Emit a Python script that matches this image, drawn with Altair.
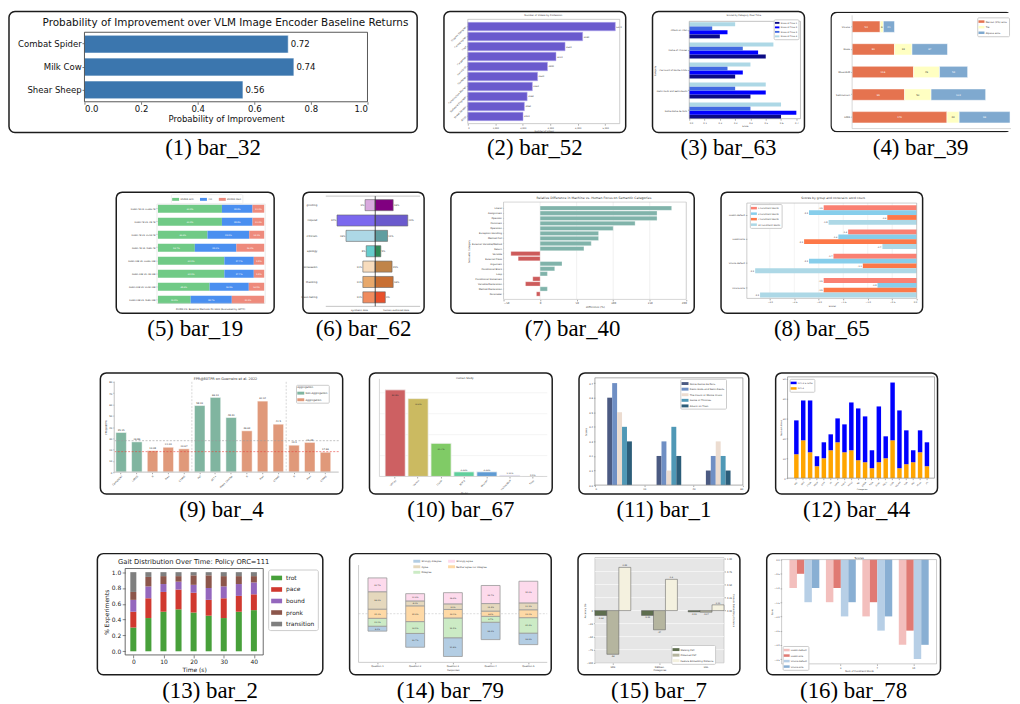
import altair as alt
import pandas as pd

FONT = "DejaVu Sans"
CAPF = "Liberation Serif"
RECT = "M-1,-0.42L1,-0.42L1,0.42L-1,0.42Z"
TXT = "#333333"

# ======================= data =======================
# (1) bar_32
p1_tasks = ["Combat Spider", "Milk Cow", "Shear Sheep"]
p1_prob = [0.72, 0.74, 0.56]
# (2) bar_52
p2_prof = ["Graphic Designer", "Cartographer", "Chef", "Carpenter", "Hairstylist",
           "Gardener", "Construction Worker", "Software Engineer", "Street Vendor", "Artist"]
p2_videos = [5370, 4180, 3540, 3210, 2900, 2540, 2350, 2160, 2060, 2010]
# (3) bar_63
p3_titles = ["Attack on Titan", "Game of Thrones", "The Count of Monte Cristo",
             "Demi-Gods and Semi-Devils", "Notre-Dame de Paris"]
p3_series = ["Score at Time 1", "Score at Time 2", "Score at Time 3", "Score at Time 4"]
p3_t1 = [0.20, 0.50, 0.30, 0.40, 0.60]
p3_t2 = [0.25, 0.45, 0.35, 0.50, 0.70]
p3_t3 = [0.15, 0.35, 0.25, 0.30, 0.40]
p3_t4 = [0.30, 0.55, 0.40, 0.50, 0.60]
p3_colors = ["#0b0b85", "#0000ff", "#4169e1", "#add8e6"]
# (4) bar_39
p4_models = ["Vicuna", "Koala", "WizardLM", "Selfinstruct", "LIMA"]
p4_keys = ["Recost (1%) wins", "Tie", "Alpaca wins"]
p4_win = [53, 80, 116, 99, 179]
p4_tie = [6, 33, 49, 50, 23]
p4_lose = [21, 67, 53, 103, 96]
p4_colors = ["#e5734f", "#ffffc2", "#7fa9cf"]
# (5) bar_19
p5_pairs = ["DUMA-7B VS. LLaMa-7B", "DUMA-7B VS. CB-7B", "DUMA-7B VS. VLAM-7B", "DUMA-7B VS. RLED-7B",
            "DUMA-13B VS. LLaMa-13B", "DUMA-13B VS. CB-13B", "DUMA-13B VS. VLAM-13B", "DUMA-13B VS. RLED-13B"]
p5_keys = ["DUMA win", "Tie", "DUMA lose"]
p5_win = [60.2, 60.2, 46.6, 34.7, 62.5, 62.5, 48.6, 30.8]
p5_tie = [28.8, 28.8, 39.3, 39.1, 27.7, 27.7, 36.9, 38.7]
p5_lose = [11.0, 11.0, 14.1, 26.2, 9.8, 9.8, 14.5, 30.5]
p5_colors = ["#70ca86", "#4a8ff0", "#ee8a7c"]
# (6) bar_62
p6_acts = ["greeting", "request", "criticism", "apology", "persuasion", "thanking", "leave-taking"]
p6_syn = [9, 34, 26, 8, 11, 11, 11]
p6_hum = [16, 29, 11, 5, 15, 16, 9]
p6_syn_col = ["#d9a9de", "#7b68ee", "#add8e6", "#66cdcd", "#f8dcbd", "#e8a86b", "#f08b5e"]
p6_hum_col = ["#800080", "#6a5acd", "#5f9ea0", "#2e8b57", "#c08449", "#c86f33", "#e8502b"]
# (7) bar_40
p7_cats = ["Literal", "Assignment", "Operator", "Comment", "Operation", "Exception Handling",
           "Method Call", "External Variable/Method", "Return", "Variable", "External Class",
           "Argument", "Conditional Block", "Loop", "Conditional Statement",
           "Variable Declaration", "Method Declaration", "Parameter"]
p7_diff = [180, 160, 160, 130, 100, 80, 80, 70, 60, -40, -30, 30, 20, 10, -10, -20, 10, -5]
# (8) bar_65
p8_groups = ["LLaMA-Default", "LLaMA-HAS", "Vicuna-Default", "Vicuna-HAS"]
p8_series = ["1 Constraint Words", "3 Constraint Words", "7 Constraint Words", "10 Constraint Words"]
p8_c1 = [-1.9, -1.4, -1.7, -1.9]
p8_c3 = [-2.2, -1.6, -2.2, -0.8]
p8_c7 = [-0.6, -2.3, -1.1, -1.9]
p8_c10 = [-1.8, -0.7, -3.3, -3.2]
p8_colors = ["#fa8072", "#87ceeb", "#fd7848", "#add8e6"]
# (9) bar_4
p9_labels = ["CometKiwi", "LaBSE", "R", "Max", "STARE", "Pol", "ACT+", "Wass. Combo",
             "R", "Max", "STARE", "R", "Max", "STARE"]
p9_fpr = [35.15, 26.86, 19.08, 22.09, 20.67, 58.99, 66.19, 48.39, 36.63, 62.94, 42.5, 23.9, 26.38, 17.66]
p9_type = ["Non-Aggregation"] * 2 + ["Aggregation"] * 3 + ["Non-Aggregation"] * 3 + ["Aggregation"] * 6
p9_refs = [27.9, 18.2]
p9_splits = [5, 11]
# (10) bar_67
p10_models = ["GPT-4V", "Gemini", "LLaVA", "BLIP-2", "MiniGPT", "InstructBLIP", "Fuyu"]
p10_pct = [82.8, 74.4, 31.7, 4.44, 4.44, 1.11, 0.0]
p10_lab = ["82.8%", "74.4%", "31.7%", "4.44%", "4.44%", "1.11%", "0.0%"]
p10_colors = ["#cd6062", "#cbba61", "#80cb66", "#60cf9c", "#5f9bd3", "#b4a6e6", "#e9a6da"]
# (11) bar_1
p11_series = ["Notre-Dame de Paris", "Demi-Gods and Semi-Devils", "The Count of Monte Cristo",
              "Game of Thrones", "Attack on Titan"]
p11_groups = [10, 30, 50]
p11_offsets = [-4, -2, 0, 2, 4]
p11_vals = [[0.6, 0.2, 0.1], [0.7, 0.3, 0.2], [0.5, 0.1, 0.3], [0.4, 0.4, 0.2], [0.3, 0.2, 0.1]]
p11_colors = ["#4b5a82", "#6f8fc4", "#ecdcd0", "#4f98b6", "#2c5d79"]
# (12) bar_44
p12_cats = ["ARC", "BBH", "CSQA", "DROP", "GSM", "HS", "LAMA", "MATH", "MMLU", "NQ",
            "OBQA", "PIQA", "QuAC", "RACE", "SIQA", "SQuAD", "TQA", "WG", "XSum", "ZS"]
p12_gpt4 = [12, 19, 13, 6, 10, 14, 18, 13, 14, 9, 8, 5, 8, 10, 19, 5, 7, 8, 13, 6]
p12_gpt35 = [17, 20, 26, 5, 8, 8, 12, 14, 24, 26, 23, 9, 28, 11, 29, 29, 17, 6, 11, 12]
# (13) bar_2
p13_time = [0, 5, 10, 15, 20, 25, 30, 35, 40]
p13_gaits = ["trot", "pace", "bound", "pronk", "transition"]
p13_trot = [0.30, 0.42, 0.50, 0.53, 0.49, 0.45, 0.42, 0.50, 0.52]
p13_pace = [0.20, 0.25, 0.25, 0.25, 0.25, 0.20, 0.25, 0.20, 0.20]
p13_bound = [0.15, 0.15, 0.10, 0.10, 0.10, 0.15, 0.15, 0.15, 0.15]
p13_pronk = [0.10, 0.12, 0.10, 0.07, 0.12, 0.16, 0.13, 0.10, 0.08]
p13_trans = [0.25, 0.06, 0.05, 0.05, 0.04, 0.04, 0.05, 0.05, 0.05]
p13_colors = ["#47a03a", "#d0392f", "#9467bd", "#8c564b", "#7f7f7f"]
# (14) bar_79
p14_q = ["Question 1", "Question 2", "Question 3", "Question 4", "Question 5"]
p14_levels = ["Strongly disagree", "Disagree", "Neither agree nor disagree", "Agree", "Strongly agree"]
p14_sd = [8.1, 22.7, 30.8, 28.6, 18.9]
p14_d = [13.0, 19.5, 32.5, 9.7, 25.4]
p14_n = [15.1, 25.9, 14.0, 8.6, 13.0]
p14_a = [28.6, 8.1, 9.2, 12.4, 11.3]
p14_sa = [22.7, 11.9, 18.4, 29.7, 35.6]
p14_colors = ["#b3cde3", "#ccebc5", "#fed9a6", "#e5d8bd", "#fddaec"]
# (15) bar_7
p15_groups = ["SDS", "NERLen", "HSL"]
p15_series = ["Walking FSC", "Observed FSP", "Feature Embedding Distance"]
p15_walk = [-9.44, -9.33, -2.51]
p15_obs = [-84.0, -37.0, -3.07]
p15_fed = [0.83, 0.6, 0.11]
p15_colors = ["#5e6e4e", "#b5b59f", "#f4f1df"]
# (16) bar_78
p16_groups = ["1", "3", "7", "10"]
p16_series = ["LLaMA-Default", "LLaMA-HAS", "Vicuna-Default", "Vicuna-HAS"]
p16_vals = [[-1.0, -1.5, -2.0, -3.0], [-0.5, -1.0, -1.5, -2.5],
            [-1.5, -2.0, -2.5, -3.5], [-1.0, -1.5, -2.0, -3.0]]
p16_colors = ["#f3bfbd", "#e07a73", "#b7cfe6", "#89afd3"]


# ======================= helpers =======================
def one():
    return pd.DataFrame({"k": [0]})


def note(text, x, y, size, align="center", angle=0, color=TXT, baseline="middle"):
    kw = dict(text=text, align=align, baseline=baseline, fontSize=size, font=FONT, color=color)
    if angle:
        kw["angle"] = angle
    return alt.Chart(one()).mark_text(**kw).encode(x=alt.value(x), y=alt.value(y))


def box(L, T, R, B, color="#555555", sw=0.8, fill=None):
    kw = dict(stroke=color, strokeWidth=sw)
    if fill:
        kw["fill"] = fill
        kw["fillOpacity"] = 1
    else:
        kw["fillOpacity"] = 0
    return alt.Chart(one()).mark_rect(**kw).encode(
        x=alt.value(L), x2=alt.value(R), y=alt.value(T), y2=alt.value(B))


def seg(x1, y1, x2, y2, color="#555555", sw=0.8, dash=None):
    kw = dict(color=color, strokeWidth=sw)
    if dash:
        kw["strokeDash"] = dash
    return alt.Chart(one()).mark_rule(**kw).encode(
        x=alt.value(x1), y=alt.value(y1), x2=alt.value(x2), y2=alt.value(y2))


def axis_kw(size, extra):
    d = dict(grid=False, domain=False, labelFontSize=size, titleFontSize=size,
             labelFont=FONT, titleFont=FONT, labelColor=TXT, titleColor=TXT,
             titleFontWeight="normal", tickSize=1.5, tickWidth=0.5, tickColor="#555555",
             labelPadding=1, titlePadding=1)
    d.update(extra)
    return d


def xax(H, B, size, **kw):
    return alt.Axis(offset=-(H - B), **axis_kw(size, kw))


def yax(L, size, **kw):
    return alt.Axis(offset=-L, **axis_kw(size, kw))


def leg(x, y, size, symw, **kw):
    d = dict(orient="none", legendX=x, legendY=y, title=None, labelFontSize=size,
             labelFont=FONT, labelColor=TXT, symbolType=RECT, symbolSize=symw * symw,
             symbolStrokeWidth=0, rowPadding=size * 0.25, padding=size * 0.5,
             strokeColor="#cccccc", fillColor="white", cornerRadius=1,
             labelOffset=size * 0.5)
    d.update(kw)
    return alt.Legend(**d)


def finish(layers, W, H, caption, ydep=False, view=None):
    ch = alt.layer(*layers)
    if ydep:
        ch = ch.resolve_scale(y="independent")
    props = dict(width=W, height=H, title=alt.Title(
        caption, orient="bottom", anchor="middle", font=CAPF, fontSize=23,
        fontWeight="normal", color="#000000", offset=5))
    if view is not None:
        props["view"] = view
    return ch.properties(**props)


def stack_rows(cats, keys, series):
    rows = []
    for i, c in enumerate(cats):
        acc = 0.0
        for k, vals in zip(keys, series):
            v = vals[i]
            rows.append({"cat": c, "key": k, "v": v, "x0": acc, "x1": acc + v, "xm": acc + v / 2})
            acc += v
    return pd.DataFrame(rows)


# ======================= panels =======================
def panel1():
    W, H = 411, 122
    L, T, R, B = 76, 21, 361, 91
    df = pd.DataFrame({"task": p1_tasks, "p": p1_prob, "lab": [f"{v:.2f}" for v in p1_prob]})
    x = alt.X("p:Q", scale=alt.Scale(domain=[0, 1], range=[L, R], nice=False),
              axis=xax(H, B, 8.6, values=[0, 0.2, 0.4, 0.6, 0.8, 1.0], format=".1f",
                       title="Probability of Improvement", tickSize=2.5, tickWidth=0.8,
                       labelPadding=0.5, titlePadding=1, labelColor="#111111", titleColor="#111111"))
    y = alt.Y("task:N", sort=p1_tasks, scale=alt.Scale(range=[T, B], paddingInner=0.22, paddingOuter=0.13),
              axis=yax(L, 8.6, title=None, tickSize=2.5, tickWidth=0.8, labelPadding=0.8, labelColor="#111111"))
    base = alt.Chart(df)
    bars = base.mark_bar(color="#3b76ae", stroke="white", strokeWidth=0.6).encode(x=x, y=y)
    txt = base.mark_text(align="left", baseline="middle", dx=2.5, fontSize=8.6, font=FONT,
                         color="#111111").encode(x=x, y=y, text="lab:N")
    return finish([bars, txt, box(L, T, R, B, "#444444", 0.9),
                   note("Probability of Improvement over VLM Image Encoder Baseline Returns", 218, 11.5, 10.5, color="#111111")],
                  W, H, "(1) bar_32")


def panel2():
    W, H = 183, 122
    L, T, R, B = 24, 8, 177, 113
    df = pd.DataFrame({"prof": p2_prof, "n": p2_videos, "lab": [str(v) for v in p2_videos]})
    x = alt.X("n:Q", scale=alt.Scale(domain=[0, 5530], range=[L, R], nice=False),
              axis=xax(H, B, 2.2, values=[0, 1000, 2000, 3000, 4000, 5000], title="Number of Videos", labelAngle=0))
    y = alt.Y("prof:N", sort=p2_prof, scale=alt.Scale(range=[T, B], paddingInner=0.15, paddingOuter=0.3),
              axis=yax(L, 2.4, title=None, labelAngle=315))
    base = alt.Chart(df)
    bars = base.mark_bar(color="#6a5acd", stroke="#b3a9ee", strokeWidth=0.5).encode(x=x, y=y)
    txt = base.mark_text(align="left", dx=1, fontSize=2.2, font=FONT, color=TXT).encode(x=x, y=y, text="lab:N")
    return finish([bars, txt, box(L, T, R, B, "#aaaaaa", 0.6),
                   note("Number of Videos by Profession", 100, 4, 2.4)], W, H, "(2) bar_52")


def panel3():
    W, H = 153, 122
    L, T, R, B = 37, 10, 149, 108
    rows = []
    for s, vals in zip(p3_series, [p3_t1, p3_t2, p3_t3, p3_t4]):
        for c, v in zip(p3_titles, vals):
            rows.append({"cat": c, "s": s, "v": v})
    df = pd.DataFrame(rows)
    x = alt.X("v:Q", scale=alt.Scale(domain=[0, 0.727], range=[L, R], nice=False),
              axis=xax(H, B, 2.2, values=[0, 0.1, 0.2, 0.3, 0.4, 0.5, 0.6, 0.7], format=".1f", title="Score"))
    y = alt.Y("cat:N", sort=p3_titles, scale=alt.Scale(range=[11, 108], paddingInner=0.2, paddingOuter=0),
              axis=yax(L, 2.2, title="Category"))
    yo = alt.YOffset("s:N", sort=p3_series[::-1], scale=alt.Scale(paddingInner=0))
    col = alt.Color("s:N", scale=alt.Scale(domain=p3_series, range=p3_colors),
                    legend=leg(122, 8, 2.1, 4.5))
    bars = alt.Chart(df).mark_bar().encode(x=x, y=y, yOffset=yo, color=col)
    return finish([bars, box(L, T, R, B, "#999999", 0.6),
                   note("Scores by Category Over Time", 92, 3.5, 2.3)], W, H, "(3) bar_63")


def panel4():
    W, H = 182, 122
    L, T, R, B = 22, 4, 181, 118
    df = stack_rows(p4_models, p4_keys, [p4_win, p4_tie, p4_lose])
    df["lab"] = [str(int(v)) for v in df["v"]]
    df["tc"] = ["#333333" if k == "Tie" else "white" for k in df["key"]]
    xs = alt.Scale(domain=[0, 298], range=[L, R], nice=False)
    y = alt.Y("cat:N", sort=p4_models, scale=alt.Scale(range=[T, B], paddingInner=0.5, paddingOuter=0.25),
              axis=yax(L, 2.5, title=None))
    col = alt.Color("key:N", scale=alt.Scale(domain=p4_keys, range=p4_colors), legend=leg(148, 6, 2.5, 6))
    bars = alt.Chart(df).mark_bar(stroke="white", strokeWidth=0.5).encode(
        x=alt.X("x0:Q", scale=xs, axis=None), x2="x1:Q", y=y, color=col)
    txt = alt.Chart(df).mark_text(fontSize=2.5, font=FONT).encode(
        x=alt.X("xm:Q", scale=xs, axis=None), y=y, text="lab:N", color=alt.Color("tc:N", scale=None))
    # the reference crops this panel at the page edge: frame drawn open on the right
    frame = alt.Chart(one()).mark_rect(clip=True, cornerRadius=6, stroke="#1c1c1c", strokeWidth=1.5,
                                       fillOpacity=0).encode(
        x=alt.value(0.75), x2=alt.value(W + 12), y=alt.value(0.75), y2=alt.value(H - 0.75))
    return finish([bars, txt, seg(L, T, L, B, "#bbbbbb", 0.6), seg(L, B, W, B, "#bbbbbb", 0.6), frame],
                  W, H, "(4) bar_39", view=alt.ViewBackground(strokeOpacity=0))


def panel5():
    W, H = 159, 122
    L, T, R, B = 41, 12, 150, 112
    df = stack_rows(p5_pairs, p5_keys, [p5_win, p5_tie, p5_lose])
    df["lab"] = [f"{v:.1f}%" for v in df["v"]]
    xs = alt.Scale(domain=[0, 100], range=[42, 149], nice=False)
    y = alt.Y("cat:N", sort=p5_pairs, scale=alt.Scale(range=[12.7, 112.3], paddingInner=0.39, paddingOuter=0),
              axis=yax(L, 2.1, title=None, tickSize=1))
    col = alt.Color("key:N", scale=alt.Scale(domain=p5_keys, range=p5_colors),
                    legend=leg(55, 2, 2.6, 7, direction="horizontal", columnPadding=6, strokeColor="#eeeeee"))
    bars = alt.Chart(df).mark_bar().encode(x=alt.X("x0:Q", scale=xs, axis=None), x2="x1:Q", y=y, color=col)
    txt = alt.Chart(df).mark_text(fontSize=2.1, font=FONT, color="white").encode(
        x=alt.X("xm:Q", scale=xs, axis=None), y=y, text="lab:N")
    return finish([bars, txt, box(L, T, R, B, "#dddddd", 0.6),
                   note("DUMA VS. Baseline Methods On HHH (Evaluated by GPT4)", 95, 118, 2.4)],
                  W, H, "(5) bar_19")


def panel6():
    W, H = 122, 122
    L, T, R, B = 23, 4, 118, 115
    syn = pd.DataFrame({"act": p6_acts, "v": [-v for v in p6_syn], "c": p6_syn_col,
                        "lab": [f"{v}%" for v in p6_syn]})
    hum = pd.DataFrame({"act": p6_acts, "v": p6_hum, "c": p6_hum_col,
                        "lab": [f"{v}%" for v in p6_hum]})
    xs = alt.Scale(domain=[-44, 40], range=[L, R], nice=False)
    x = alt.X("v:Q", scale=xs, axis=None)
    y = alt.Y("act:N", sort=p6_acts, scale=alt.Scale(range=[7.5, 111.5], paddingInner=0.28, paddingOuter=0),
              axis=yax(L, 2.6, title=None, tickSize=0, labelPadding=9))
    b1 = alt.Chart(syn).mark_bar(stroke="#666666", strokeWidth=0.6).encode(x=x, y=y, color=alt.Color("c:N", scale=None))
    b2 = alt.Chart(hum).mark_bar(stroke="#666666", strokeWidth=0.6).encode(x=x, y=y, color=alt.Color("c:N", scale=None))
    t1 = alt.Chart(syn).mark_text(align="right", dx=-0.8, fontSize=2.4, font=FONT, color=TXT).encode(x=x, y=y, text="lab:N")
    t2 = alt.Chart(hum).mark_text(align="left", dx=0.8, fontSize=2.4, font=FONT, color=TXT).encode(x=x, y=y, text="lab:N")
    return finish([b1, b2, t1, t2,
                   seg(L, T, R, T, "#999999", 0.6), seg(L, B, R, B, "#999999", 0.6),
                   seg(72.8, T, 72.8, B, "#333333", 0.8),
                   note("synthetic data", 57, 119, 2.4), note("human-authored data", 94, 119, 2.4)],
                  W, H, "(6) bar_62")


def panel7():
    W, H = 245, 122
    L, T, R, B = 53, 10, 237, 108
    df = pd.DataFrame({"cat": p7_cats, "d": p7_diff,
                       "c": ["#80b3aa" if v > 0 else "#cd5b5b" for v in p7_diff]})
    ticks = pd.DataFrame({"d": [-50, 0, 50, 100, 150, 200]})
    xs = alt.Scale(domain=[-50, 200], range=[L, R], nice=False)
    x = alt.X("d:Q", scale=xs, axis=xax(H, B, 2.6, values=[-50, 0, 50, 100, 150, 200], title="Difference (%)"))
    y = alt.Y("cat:N", sort=p7_cats, scale=alt.Scale(range=[14, 104.7], paddingInner=0.15, paddingOuter=0),
              axis=yax(L, 2.4, title="Semantic Category", tickSize=1))
    grid = alt.Chart(ticks).mark_rule(color="#e3e3e3", strokeWidth=0.5).encode(x=x, y=alt.value(T), y2=alt.value(B))
    bars = alt.Chart(df).mark_bar(stroke="white", strokeWidth=0.3).encode(x=x, y=y, color=alt.Color("c:N", scale=None))
    return finish([grid, bars, box(L, T, R, B, "#bbbbbb", 0.6),
                   note("Relative Difference in Machine vs. Human Focus on Semantic Categories", 144, 6, 3.2)],
                  W, H, "(7) bar_40")


def panel8():
    W, H = 203, 122
    L, T, R, B = 26, 11, 197, 107
    rows = []
    for s, vals in zip(p8_series, [p8_c1, p8_c3, p8_c7, p8_c10]):
        for g, v in zip(p8_groups, vals):
            rows.append({"g": g, "s": s, "v": v, "lab": f"{v:.1f}"})
    df = pd.DataFrame(rows)
    ticks = pd.DataFrame({"v": [-3.0, -2.5, -2.0, -1.5, -1.0, -0.5, 0.0]})
    xs = alt.Scale(domain=[-3.47, 0], range=[L, R], nice=False)
    x = alt.X("v:Q", scale=xs, axis=xax(H, B, 2.2, values=[-3.0, -2.5, -2.0, -1.5, -1.0, -0.5, 0.0],
                                        format=".1f", title="Scores"))
    y = alt.Y("g:N", sort=p8_groups, scale=alt.Scale(range=[13.3, 106], paddingInner=0.2, paddingOuter=0),
              axis=yax(L, 2.2, title=None))
    yo = alt.YOffset("s:N", sort=p8_series, scale=alt.Scale(paddingInner=0))
    col = alt.Color("s:N", scale=alt.Scale(domain=p8_series, range=p8_colors), legend=leg(29, 12, 2.2, 6))
    grid = alt.Chart(ticks).mark_rule(color="#e6e6e6", strokeWidth=0.5).encode(x=x, y=alt.value(T), y2=alt.value(B))
    bars = alt.Chart(df).mark_bar().encode(x=x, y=y, yOffset=yo, color=col)
    txt = alt.Chart(df).mark_text(align="right", dx=-1, fontSize=2.1, font=FONT, color=TXT).encode(
        x=x, y=y, yOffset=yo, text="lab:N")
    return finish([grid, bars, txt, box(L, T, R, B, "#aaaaaa", 0.6),
                   note("Scores by group and constraint word count", 113, 6, 3.0)], W, H, "(8) bar_65")


def panel9():
    W, H = 244, 122
    L, T, R, B = 14, 9, 240, 100
    df = pd.DataFrame({"i": list(range(len(p9_fpr))), "fpr": p9_fpr, "t": p9_type,
                       "lab": [f"{v:g}" for v in p9_fpr]})
    refs = pd.DataFrame({"fpr": p9_refs, "c": ["#999999", "#e8413a"]})
    splits = pd.DataFrame({"i": p9_splits})
    lab_expr = "[" + ",".join("'" + s + "'" for s in p9_labels) + "][datum.value]"
    xs = alt.Scale(range=[15.6, 232], paddingInner=0.33, paddingOuter=0)
    xaxis = xax(H, B, 2.5, title=None, labelExpr=lab_expr, labelAngle=315)
    x = alt.X("i:O", scale=xs, axis=xaxis)
    ys = alt.Scale(domain=[0, 80], range=[B, T], nice=False)
    y = alt.Y("fpr:Q", scale=ys, axis=yax(L, 2.4, values=[0, 10, 20, 30, 40, 50, 60, 70, 80], title="FPR@80TPR"))
    col = alt.Color("t:N", scale=alt.Scale(domain=["Non-Aggregation", "Aggregation"], range=["#80b5a0", "#e0997a"]),
                    legend=leg(197, 12, 2.6, 7, title="Aggregation", titleFontSize=2.6, titleFont=FONT,
                               titleFontWeight="normal", titleColor=TXT, titlePadding=1))
    bars = alt.Chart(df).mark_bar(stroke="white", strokeWidth=0.5).encode(x=x, y=y, color=col)
    txt = alt.Chart(df).mark_text(baseline="bottom", dy=-0.8, fontSize=2.4, font=FONT, color=TXT).encode(
        x=x, y=y, text="lab:N")
    hl = alt.Chart(refs).mark_rule(strokeDash=[2, 1.5], strokeWidth=0.6).encode(
        y=y, x=alt.value(L), x2=alt.value(R), color=alt.Color("c:N", scale=None))
    vl = alt.Chart(splits).mark_rule(strokeDash=[2, 1.5], strokeWidth=0.6, color="#bbbbbb", xOffset=-2.6).encode(
        x=alt.X("i:O", scale=xs, bandPosition=0, axis=xaxis), y=alt.value(T), y2=alt.value(B))
    return finish([bars, txt, hl, vl, seg(L, T, L, B, "#cccccc", 1.2), seg(L, B, R, B, "#cccccc", 1.2),
                   note("FPR@80TPR on Guerreiro et al. 2022", 126, 6, 3.5)], W, H, "(9) bar_4")


def panel10():
    W, H = 184, 122
    L, T, R, B = 10, 6, 179, 104.3
    df = pd.DataFrame({"m": p10_models, "v": p10_pct, "lab": p10_lab, "c": p10_colors,
                       "ly": [v - 5 if v > 10 else v + 1.8 for v in p10_pct]})
    ticks = pd.DataFrame({"v": [20, 40, 60, 80]})
    x = alt.X("m:N", sort=p10_models, scale=alt.Scale(range=[15.7, 174.6], paddingInner=0.12, paddingOuter=0),
              axis=xax(H, B, 2.3, title="Model", labelAngle=315))
    ys = alt.Scale(domain=[0, 93.3], range=[B, T], nice=False)
    y = alt.Y("v:Q", scale=ys, axis=yax(L, 2.3, values=[0, 20, 40, 60, 80], title="Percentage (%)"))
    grid = alt.Chart(ticks).mark_rule(color="#eeeeee", strokeWidth=0.6).encode(y=y, x=alt.value(L), x2=alt.value(R))
    bars = alt.Chart(df).mark_bar(stroke="#f4f4f4", strokeWidth=0.8).encode(x=x, y=y, color=alt.Color("c:N", scale=None))
    txt = alt.Chart(df).mark_text(fontSize=2.2, font=FONT, color=TXT).encode(
        x=x, y=alt.Y("ly:Q", scale=ys, axis=None), text="lab:N")
    return finish([grid, bars, txt, seg(L, T, L, B, "#cccccc", 0.8), seg(L, B, R, B, "#cccccc", 0.8),
                   note("Human Study", 96, 5, 2.6)], W, H, "(10) bar_67")


def panel11():
    W, H = 171, 122
    L, T, R, B = 16, 5, 165, 113
    rows = []
    for s, off, vals in zip(p11_series, p11_offsets, p11_vals):
        for g, v in zip(p11_groups, vals):
            rows.append({"s": s, "x0": g + off - 1, "x1": g + off + 1, "v": v, "base": 0.0})
    df = pd.DataFrame(rows)
    x = alt.X("x0:Q", scale=alt.Scale(domain=[0, 60], range=[L, R], nice=False),
              axis=xax(H, B, 2.4, values=[0, 20, 40, 60], title=None))
    y = alt.Y("v:Q", scale=alt.Scale(domain=[0, 0.736], range=[B, T], nice=False),
              axis=yax(L, 2.4, values=[0, 0.1, 0.2, 0.3, 0.4, 0.5, 0.6, 0.7], format=".1f", title="Scores"))
    col = alt.Color("s:N", scale=alt.Scale(domain=p11_series, range=p11_colors), legend=leg(102, 6, 2.5, 7))
    bars = alt.Chart(df).mark_bar().encode(x=x, x2="x1:Q", y=y, y2="base:Q", color=col)
    return finish([bars, box(L, T, R, B, "#888888", 0.7)], W, H, "(11) bar_1")


def panel12():
    W, H = 163, 122
    L, T, R, B = 12, 4, 160, 106
    keys = ["GPT-4", "GPT-3.5-Turbo"]
    df = stack_rows(p12_cats, keys, [p12_gpt4, p12_gpt35])
    x = alt.X("cat:N", sort=p12_cats, scale=alt.Scale(range=[18.6, 154.6], paddingInner=0.35, paddingOuter=0),
              axis=xax(H, B, 2.0, title="Categories", labelAngle=315))
    ys = alt.Scale(domain=[0, 50.85], range=[B, T], nice=False)
    y = alt.Y("x0:Q", scale=ys, axis=yax(L, 2.2, values=[0, 10, 20, 30, 40, 50], title="Num solutions"))
    col = alt.Color("key:N", scale=alt.Scale(domain=["GPT-3.5-Turbo", "GPT-4"], range=["#0000ff", "#ffa500"]),
                    legend=leg(14, 6, 2.2, 6))
    bars = alt.Chart(df).mark_bar().encode(x=x, y=y, y2="x1:Q", color=col)
    return finish([bars, box(L, T, R, B, "#888888", 0.7)], W, H, "(12) bar_44")


def panel13():
    W, H = 227, 122
    L, T, R, B = 28, 15, 167, 102
    rows = []
    series = [p13_trot, p13_pace, p13_bound, p13_pronk, p13_trans]
    for i, t in enumerate(p13_time):
        acc = 0.0
        for g, vals in zip(p13_gaits, series):
            rows.append({"g": g, "t0": t - 1, "t1": t + 1, "y0": acc, "y1": acc + vals[i]})
            acc += vals[i]
    df = pd.DataFrame(rows)
    x = alt.X("t0:Q", scale=alt.Scale(domain=[-2.7, 43.1], range=[L, R], nice=False),
              axis=xax(H, B, 6, values=[0, 10, 20, 30, 40], title="Time (s)", tickSize=3, tickWidth=0.7,
                       labelPadding=1, titlePadding=1.5, labelColor="#222222", titleColor="#222222"))
    y = alt.Y("y0:Q", scale=alt.Scale(domain=[-0.046, 1.046], range=[B, T], nice=False),
              axis=yax(L, 6, values=[0, 0.2, 0.4, 0.6, 0.8, 1.0], format=".1f", title="% Experiments",
                       tickSize=3, tickWidth=0.7, labelPadding=1.5, titlePadding=2,
                       labelColor="#222222", titleColor="#222222"))
    col = alt.Color("g:N", scale=alt.Scale(domain=p13_gaits, range=p13_colors),
                    legend=leg(172, 16, 6, 11, rowPadding=2.6, padding=3, cornerRadius=2,
                               labelOffset=4, labelColor="#222222"))
    bars = alt.Chart(df).mark_bar().encode(x=x, x2="t1:Q", y=y, y2="y1:Q", color=col)
    return finish([bars, box(L, T, R, B, "#444444", 0.8),
                   note("Gait Distribution Over Time: Policy ORC=111", 97, 8, 6.8, color="#222222")],
                  W, H, "(13) bar_2")


def panel14():
    W, H = 203, 122
    L, T, R, B = 9, 11.5, 199, 109.5
    rows = []
    for i, q in enumerate(p14_q):
        n0 = -p14_n[i] / 2
        n1 = p14_n[i] / 2
        segs = [("Strongly disagree", n0 - p14_d[i] - p14_sd[i], n0 - p14_d[i], p14_sd[i]),
                ("Disagree", n0 - p14_d[i], n0, p14_d[i]),
                ("Neither agree nor disagree", n0, n1, p14_n[i]),
                ("Agree", n1, n1 + p14_a[i], p14_a[i]),
                ("Strongly agree", n1 + p14_a[i], n1 + p14_a[i] + p14_sa[i], p14_sa[i])]
        for k, a, b, v in segs:
            rows.append({"q": q, "k": k, "y0": a, "y1": b, "ym": (a + b) / 2, "lab": f"{v:.1f}%"})
    df = pd.DataFrame(rows)
    x = alt.X("q:N", sort=p14_q, scale=alt.Scale(range=[L, R], paddingInner=0.5, paddingOuter=0.25),
              axis=xax(H, B, 2.3, title="Responses", labelAngle=0))
    ys = alt.Scale(domain=[-80, 80], range=[B, T], nice=False)
    y = alt.Y("y0:Q", scale=ys, axis=yax(L, 2.3, values=[-80, -60, -40, -20, 0, 20, 40, 60, 80],
                                          labelExpr="format(abs(datum.value), 'd')", title=None))
    order = ["Strongly disagree", "Agree", "Disagree", "Strongly agree", "Neither agree nor disagree"]
    cmap = dict(zip(p14_levels, p14_colors))
    col = alt.Color("k:N", scale=alt.Scale(domain=order, range=[cmap[o] for o in order]),
                    legend=leg(63, 3, 2.3, 7, columns=2, columnPadding=6, strokeColor="white"))
    bars = alt.Chart(df).mark_bar(stroke="#999999", strokeWidth=0.8).encode(x=x, y=y, y2="y1:Q", color=col)
    txt = alt.Chart(df).mark_text(fontSize=2.0, font=FONT, color=TXT).encode(
        x=x, y=alt.Y("ym:Q", scale=ys, axis=None), text="lab:N")
    zero = alt.Chart(pd.DataFrame({"y0": [0]})).mark_rule(color="#bbbbbb", strokeWidth=0.5, strokeDash=[2, 1.5]).encode(
        y=y, x=alt.value(L), x2=alt.value(R))
    return finish([zero, bars, txt, seg(L, T, L, B, "#aaaaaa", 0.6), seg(L, B, R, B, "#aaaaaa", 0.6)],
                  W, H, "(14) bar_79")


def panel15():
    W, H = 163, 122
    L, T, R, B = 17, 4, 147, 110
    dl = []
    for s, vals in zip(p15_series[:2], [p15_walk, p15_obs]):
        for g, v in zip(p15_groups, vals):
            dl.append({"g": g, "s": s, "v": v, "lab": f"{v:g}"})
    dl = pd.DataFrame(dl)
    dr = pd.DataFrame({"g": p15_groups, "s": [p15_series[2]] * 3, "v": p15_fed,
                       "lab": [f"{v:g}" for v in p15_fed]})
    grid = pd.DataFrame({"v": [-75, -50, -25, 0, 25, 50, 75, 100]})
    x = alt.X("g:N", sort=p15_groups, scale=alt.Scale(range=[L, R], paddingInner=0.23, paddingOuter=0),
              axis=xax(H, B, 2.4, title="Categories", labelAngle=0))
    xo = alt.XOffset("s:N", sort=p15_series, scale=alt.Scale(domain=p15_series, paddingInner=0))
    col = alt.Color("s:N", scale=alt.Scale(domain=p15_series, range=p15_colors), legend=leg(94, 92, 2.3, 7))
    yl = alt.Y("v:Q", scale=alt.Scale(domain=[-100.5, 101.8], range=[B, T], nice=False),
               axis=yax(L, 2.3, values=[0, -25, -50, -75, -100], title="Accuracy (%)"))
    yr = alt.Y("v:Q", scale=alt.Scale(domain=[-1.005, 1.018], range=[B, T], nice=False),
               axis=alt.Axis(orient="right", offset=-(W - R),
                             **axis_kw(2.3, dict(values=[0, 0.25, 0.5, 0.75, 1.0], format=".2f",
                                                 title="Feature Embedding Distance"))))
    gl = alt.Chart(grid).mark_rule(color="white", strokeWidth=0.6).encode(y=yl, x=alt.value(L), x2=alt.value(R))
    lb = alt.Chart(dl).mark_bar(stroke="#555555", strokeWidth=0.5).encode(x=x, xOffset=xo, y=yl, color=col)
    lt = alt.Chart(dl).mark_text(baseline="top", dy=1, fontSize=2.1, font=FONT, color=TXT).encode(
        x=x, xOffset=xo, y=yl, text="lab:N")
    rb = alt.Chart(dr).mark_bar(stroke="#555555", strokeWidth=0.5).encode(x=x, xOffset=xo, y=yr, color=col)
    rt = alt.Chart(dr).mark_text(baseline="bottom", dy=-1, fontSize=2.1, font=FONT, color=TXT).encode(
        x=x, xOffset=xo, y=yr, text="lab:N")
    left = alt.layer(gl, lb, lt)
    right = alt.layer(rb, rt)
    return finish([box(L, T, R, B, "#bbbbbb", 0.6, fill="#e6e6e6"), left, right], W, H, "(15) bar_7", ydep=True)


def panel16():
    W, H = 175, 122
    L, T, R, B = 15, 6, 171, 111
    rows = []
    for s, vals in zip(p16_series, p16_vals):
        for g, v in zip(p16_groups, vals):
            rows.append({"g": g, "s": s, "v": v})
    df = pd.DataFrame(rows)
    x = alt.X("g:N", sort=p16_groups, scale=alt.Scale(range=[L, R], paddingInner=0.18, paddingOuter=0.215),
              axis=xax(H, B, 2.3, title="Num of Constraint Words", labelAngle=0))
    xo = alt.XOffset("s:N", sort=p16_series, scale=alt.Scale(paddingInner=0))
    y = alt.Y("v:Q", scale=alt.Scale(domain=[-3.67, 0], range=[B, T], nice=False),
              axis=yax(L, 2.2, values=[0, -0.5, -1.0, -1.5, -2.0, -2.5, -3.0, -3.5], format=".1f", title="Score"))
    col = alt.Color("s:N", scale=alt.Scale(domain=p16_series, range=p16_colors), legend=leg(16, 93, 2.2, 6))
    bars = alt.Chart(df).mark_bar().encode(x=x, xOffset=xo, y=y, color=col)
    return finish([bars, box(L, T, R, B, "#aaaaaa", 0.6), note("Scores", 93, 4, 2.8)], W, H, "(16) bar_78")


def spacer(w):
    return alt.Chart(one()).mark_point(opacity=0, size=1).encode(x=alt.value(w / 2), y=alt.value(5)).properties(
        width=w, height=10, view=alt.ViewBackground(strokeOpacity=0, fillOpacity=0))


def row(charts):
    return alt.hconcat(*charts, spacing=25).resolve_scale(
        x="independent", y="independent", color="independent",
        xOffset="independent", yOffset="independent"
    ).resolve_axis(x="independent", y="independent").resolve_legend(color="independent")


r1 = row([panel1(), panel2(), panel3(), panel4()])
r2 = row([spacer(82), panel5(), panel6(), panel7(), panel8()])
r3 = row([spacer(66), panel9(), panel10(), panel11(), panel12()])
r4 = row([spacer(63), panel13(), panel14(), panel15(), panel16()])

chart = alt.vconcat(r1, r2, r3, r4, spacing=30).resolve_scale(
    x="independent", y="independent", color="independent",
    xOffset="independent", yOffset="independent"
).resolve_axis(x="independent", y="independent").resolve_legend(color="independent").properties(
    padding={"left": 0, "top": 0, "right": 0, "bottom": 0}
).configure(background="white").configure_view(
    stroke="#1c1c1c", strokeWidth=1.5, cornerRadius=6, fill="white"
)

chart.save("out.html", embed_options={"renderer": "svg", "actions": False})
